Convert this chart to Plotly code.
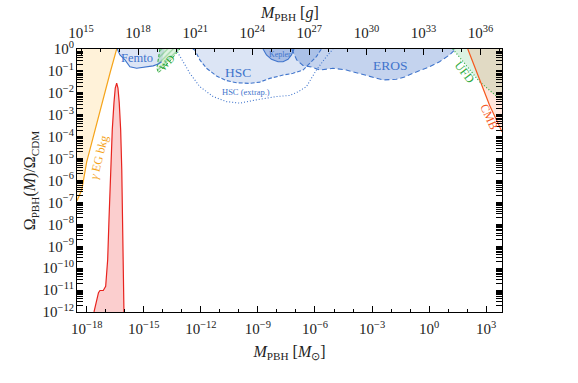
import plotly.graph_objects as go

LOG_MSUN_G = 33.2986  # log10 of solar mass in grams

# ---------------- data (log10 M/Msun, log10 f) ----------------
x_range_log = [-18.51, 3.83]
y_range_log = [-12, 0]

gamma_logM = [-18.51, -18.26, -18.0, -17.74, -17.475, -17.21, -16.76, -16.425]
gamma_logf = [-6.93, -6.43, -5.15, -4.28, -3.42, -2.46, -1.05, 0.0]

peak_logM = [-17.617, -17.475, -17.381, -17.302, -17.129, -17.003, -16.950, -16.898,
             -16.829, -16.751, -16.656, -16.567, -16.499, -16.425, -16.357, -16.289,
             -16.215, -16.157, -16.105, -16.068, -16.042]
peak_logf = [-12.0, -11.44, -11.12, -11.02, -11.02, -10.83, -10.21, -9.62,
             -7.79, -5.74, -3.69, -2.46, -1.78, -1.56, -1.78, -2.46,
             -3.69, -5.5, -7.79, -9.62, -12.0]

femto_logM = [-16.394, -16.252, -15.99, -15.727, -15.375, -14.94, -14.504, -14.241, -14.063]
femto_logf = [0.0, -0.27, -0.50, -0.81, -0.88, -0.83, -0.77, -0.68, -0.58]

wd_logM = [-14.152, -14.31, -14.231, -13.627, -13.102]
wd_logf = [0.0, -0.87, -1.09, -0.55, 0.0]

hsc_logM = [-12.42, -12.315, -12.052, -11.70, -11.176, -10.651, -10.126, -9.428, -8.903,
            -8.378, -7.68, -7.155, -6.63, -6.367, -5.927, -5.664]
hsc_logf = [0.0, -0.05, -0.50, -0.88, -1.23, -1.44, -1.54, -1.57, -1.51,
            -1.34, -1.19, -1.11, -0.96, -0.73, -0.35, 0.0]

hscx_logM = [-13.276, -13.192, -12.929, -12.577, -12.052, -11.354, -10.651, -9.953, -9.076,
             -8.026, -7.328, -6.908, -6.452, -5.927, -5.402, -5.055]
hscx_logf = [0.0, -0.20, -0.58, -1.11, -1.72, -2.17, -2.40, -2.47, -2.32,
             -2.17, -2.12, -1.96, -1.72, -0.96, -0.35, 0.0]

kepler_logM = [-8.730, -8.551, -8.289, -7.942, -7.680, -7.417, -7.239, -7.102]
kepler_logf = [0.0, -0.27, -0.47, -0.58, -0.58, -0.47, -0.27, 0.0]

eros_logM = [-7.223, -7.118, -6.96, -6.63, -6.189, -5.753, -5.055, -4.352, -3.864, -3.302,
             -2.43, -1.727, -1.29, -0.856, -0.399, 0.021, 0.546, 0.809, 1.071, 1.334, 1.386]
eros_logf = [0.0, -0.18, -0.50, -0.75, -0.82, -0.96, -0.88, -0.96, -1.07, -1.19,
             -1.41, -1.38, -1.28, -1.11, -0.96, -0.81, -0.58, -0.42, -0.27, -0.05, 0.0]

ufd_logM = [1.244, 2.646, 3.83]
ufd_logf = [0.0, -1.49, -2.37]

cmb_logM = [2.031, 2.646, 3.171, 3.83]
cmb_logf = [0.0, -1.34, -2.55, -3.78]

x_major_exp = [-18, -15, -12, -9, -6, -3, 0, 3]
x_minor_exp = [e for e in range(-18, 4) if e not in x_major_exp]
g_major_exp = [15, 18, 21, 24, 27, 30, 33, 36]
g_minor_exp = [e for e in range(15, 38) if e not in g_major_exp]
y_major_exp = list(range(-12, 1))

FONT = "Liberation Serif"
BLUE = "#3f74cc"
GREEN = "#2eaa3c"
ORANGE = "#f5a41a"
RED = "#e8231e"
CMBC = "#f5571c"


def P(v):
    return [10.0 ** a for a in v]


fig = go.Figure()


def fill(xs, ys, color, **kw):
    fig.add_trace(go.Scatter(x=P(xs), y=P(ys), mode="lines", fill="toself",
                             fillcolor=color, line=dict(width=0), hoverinfo="skip",
                             showlegend=False, **kw))


def line(xs, ys, color, width=1.2, dash="solid"):
    fig.add_trace(go.Scatter(x=P(xs), y=P(ys), mode="lines",
                             line=dict(color=color, width=width, dash=dash),
                             hoverinfo="skip", showlegend=False))


# gamma EG background
fill(gamma_logM + [-19.0, -19.0], gamma_logf + [0.0, gamma_logf[0]], "rgba(255,165,0,0.15)")
# PBH peak
fill(peak_logM, peak_logf, "rgba(235,30,30,0.22)")
# Femto
fill(femto_logM + [-13.9], femto_logf + [0.0], "rgba(60,110,200,0.18)")
# HSC
fill(hsc_logM, hsc_logf, "rgba(60,110,200,0.18)")
# EROS
fill(eros_logM, eros_logf, "rgba(60,110,200,0.30)")
# Kepler
fill(kepler_logM, kepler_logf, "rgba(60,110,200,0.33)")
# WD (hatched)
fig.add_trace(go.Scatter(x=P(wd_logM), y=P(wd_logf), mode="lines", fill="toself",
                         fillcolor="rgba(46,170,60,0.18)",
                         fillpattern=dict(shape="/", fgcolor=GREEN, bgcolor="rgba(46,170,60,0.15)",
                                          size=4, solidity=0.25),
                         line=dict(color=GREEN, width=1, dash="3px,2px"),
                         hoverinfo="skip", showlegend=False))
# UFD
fill(ufd_logM + [4.5, 4.5], ufd_logf + [ufd_logf[-1], 0.0], "rgba(20,170,70,0.15)")
# CMB
fill(cmb_logM + [4.5, 4.5], cmb_logf + [cmb_logf[-1], 0.0], "rgba(255,80,20,0.15)")

# boundary lines
line(gamma_logM, gamma_logf, ORANGE, 1.2)
line(peak_logM, peak_logf, RED, 1.2)
line(femto_logM, femto_logf, BLUE, 1.1)
line(hsc_logM, hsc_logf, BLUE, 1.1, "4px,2px")
line(hscx_logM, hscx_logf, BLUE, 1.1, "1px,2px")
line(kepler_logM, kepler_logf, BLUE, 1.1)
line(eros_logM, eros_logf, BLUE, 1.1, "5px,3px")
line(ufd_logM, ufd_logf, GREEN, 1.2, "1px,2px")
line(cmb_logM, cmb_logf, CMBC, 1.2)

# dummy trace for top (grams) axis
fig.add_trace(go.Scatter(x=[1e20], y=[1e-5], xaxis="x2", mode="markers",
                         marker=dict(opacity=0), hoverinfo="skip", showlegend=False))

# labels
labels = [
    ("Femto", -15.36, -0.41, BLUE, 12.5, 0),
    ("WD", -13.76, -0.62, GREEN, 10.5, -48),
    ("HSC", -10.04, -1.06, BLUE, 13.5, 0),
    ("HSC (extrap.)", -9.64, -1.96, BLUE, 8.5, 0),
    ("Kepler", -7.85, -0.23, BLUE, 8, 0),
    ("EROS", -2.03, -0.77, BLUE, 13.5, 0),
    ("UFD", 1.86, -1.03, GREEN, 12, 52),
    ("CMB", 3.17, -3.09, CMBC, 12, 66),
    ("<i>γ</i> EG bkg", -17.36, -4.92, ORANGE, 12, -76),
]
for txt, lx, ly, col, sz, ang in labels:
    fig.add_annotation(x=lx, y=ly, xref="x", yref="y", text=txt, showarrow=False,
                       textangle=ang, font=dict(family=FONT, size=sz, color=col))

# top axis title
fig.add_annotation(x=0.5, y=1.135, xref="paper", yref="paper", yanchor="middle",
                   text="<i>M</i><sub>PBH</sub> [<i>g</i>]", showarrow=False,
                   font=dict(family=FONT, size=16, color="#222"))


def sup(e):
    s = str(e).replace("-", "\u2212")
    return f"10<sup>{s}</sup>"


axis_common = dict(type="log", showgrid=False, zeroline=False, showline=True,
                   linecolor="black", linewidth=1.2, ticks="inside", tickcolor="black",
                   ticklen=6, tickwidth=1, automargin=False,
                   tickfont=dict(family=FONT, size=15, color="#222"))

fig.update_layout(
    width=578, height=383,
    margin=dict(l=77, r=75.5, t=49, b=71),
    plot_bgcolor="white", paper_bgcolor="white",
    font=dict(family=FONT, color="#222"),
    xaxis=dict(**axis_common, range=x_range_log,
               tickvals=[10.0 ** e for e in x_major_exp],
               ticktext=[sup(e) for e in x_major_exp],
               minor=dict(tickvals=[10.0 ** e for e in x_minor_exp], ticks="inside",
                          ticklen=3, tickcolor="black"),
               mirror=False, ticklabelstandoff=3,
               title=dict(text="<i>M</i><sub>PBH</sub> [<i>M</i><sub>⊙</sub>]",
                          font=dict(family=FONT, size=16), standoff=9)),
    xaxis2=dict(**axis_common, overlaying="x", side="top", anchor="y",
                range=[x_range_log[0] + LOG_MSUN_G, x_range_log[1] + LOG_MSUN_G],
                tickvals=[10.0 ** e for e in g_major_exp],
                ticktext=[sup(e) for e in g_major_exp],
                minor=dict(tickvals=[10.0 ** e for e in g_minor_exp], ticks="inside",
                           ticklen=3, tickcolor="black"),
                ticklabelstandoff=4),
    yaxis=dict(**axis_common, range=y_range_log,
               tickvals=[10.0 ** e for e in y_major_exp],
               ticktext=[sup(e) for e in y_major_exp],
               minor=dict(ticks="inside", ticklen=3, tickcolor="black", dtick="D1"),
               mirror="allticks", ticklabelstandoff=-1,
               title=dict(text="Ω<sub>PBH</sub>(<i>M</i>)/Ω<sub>CDM</sub>",
                          font=dict(family=FONT, size=16), standoff=2)),
)

fig.write_html("out.html", config={"displayModeBar": False},
               post_script="document.body.style.margin='0';document.body.style.padding='0';")
